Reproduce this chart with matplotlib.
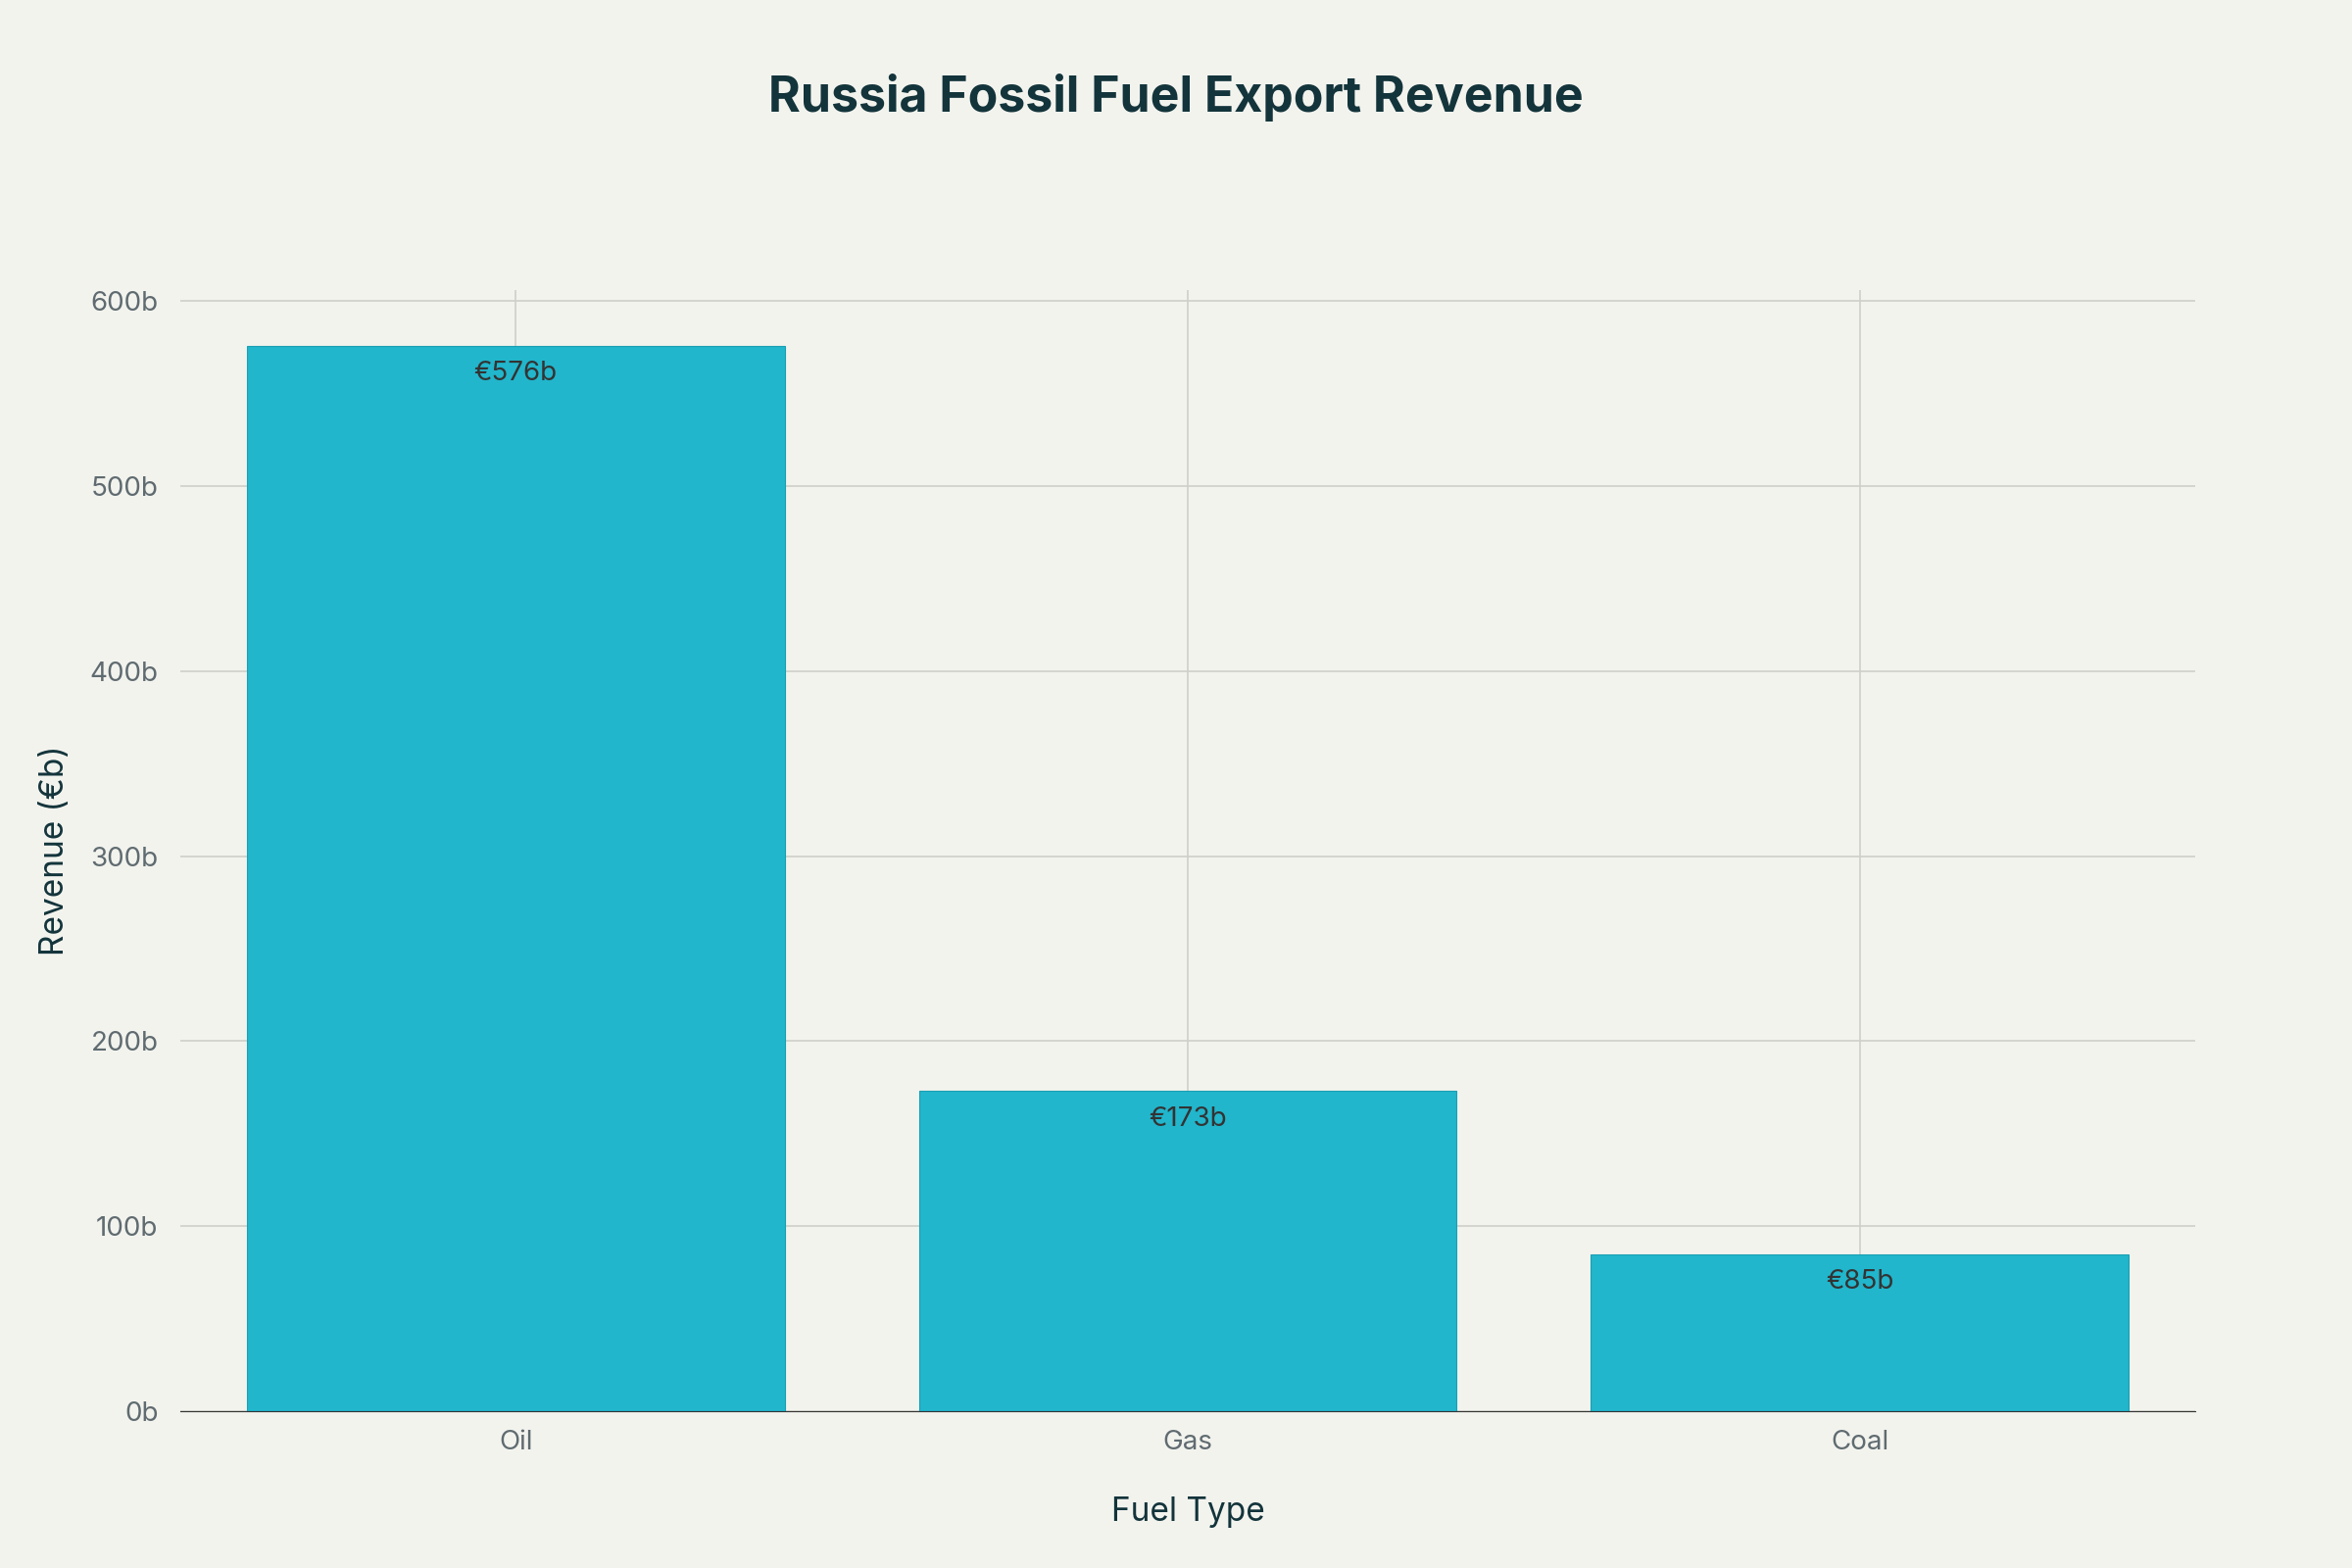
import matplotlib
matplotlib.use("Agg")
import matplotlib.pyplot as plt

categories = ["Oil", "Gas", "Coal"]
values = [576, 173, 85]
labels = ["€576b", "€173b", "€85b"]
yticks = [0, 100, 200, 300, 400, 500, 600]
yticklabels = ["0b", "100b", "200b", "300b", "400b", "500b", "600b"]

bg = "#F3F3EE"
plt.rcParams["font.family"] = "Inter"
fig = plt.figure(figsize=(24, 16), dpi=100, facecolor=bg)
ax = fig.add_axes([0.0765, 0.100, 0.857, 0.715], facecolor=bg)
x = range(len(categories))
ax.bar(x, values, width=0.8, color="#21B6CC", edgecolor="#1a9fb3", linewidth=0.8, zorder=2)
for i, (v, l) in enumerate(zip(values, labels)):
    ax.text(i, v - 8, l, ha="center", va="top", fontsize=20, color="#333333", zorder=3)
ax.set_xlim(-0.5, 2.5)
ax.set_ylim(0, 606)
ax.set_xticks(list(x))
ax.set_xticklabels(categories)
ax.set_yticks(yticks)
ax.set_yticklabels(yticklabels)
ax.grid(True, color="#cfcfcb", linewidth=1.2, zorder=0)
for s in ["top", "right", "left"]:
    ax.spines[s].set_visible(False)
ax.spines["bottom"].set_color("#333333")
ax.tick_params(axis="both", length=0, labelsize=20, labelcolor="#5f6b70", pad=14)
ax.tick_params(axis="y", pad=16)
ax.set_xlabel("Fuel Type", fontsize=24, color="#13343B", labelpad=30)
ax.set_ylabel("Revenue (€b)", fontsize=24, color="#13343B", labelpad=14)
fig.text(0.5, 0.938, "Russia Fossil Fuel Export Revenue", ha="center", va="center",
         fontsize=36, fontweight="bold", color="#13343B")
fig.savefig("out.png", dpi=100, facecolor=bg)
